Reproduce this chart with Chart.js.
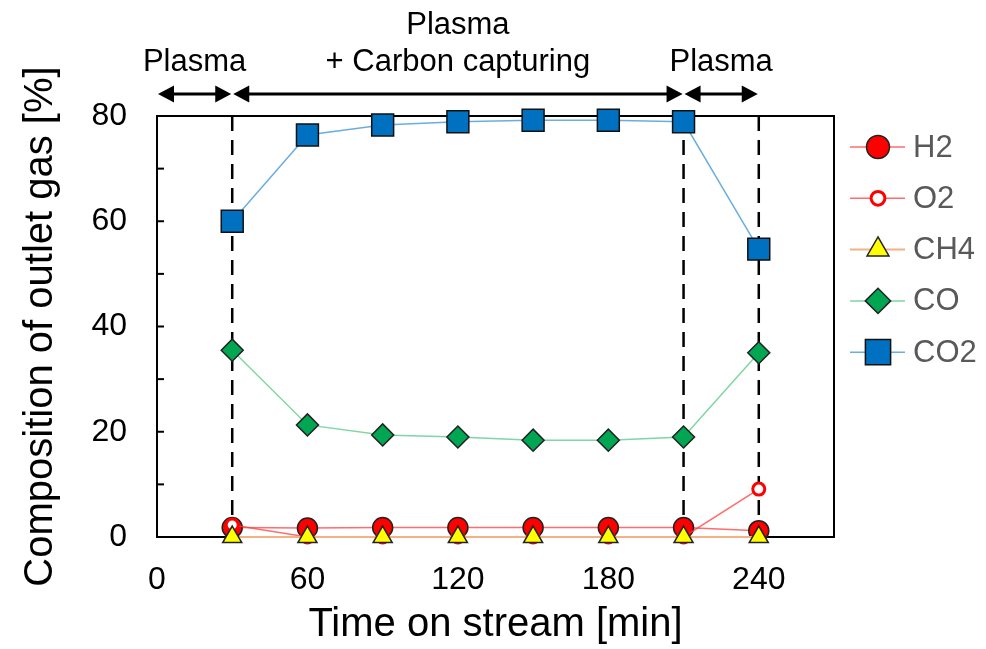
<!DOCTYPE html>
<html>
<head>
<meta charset="utf-8">
<script src="https://cdn.jsdelivr.net/npm/chart.js@4.4.1/dist/chart.umd.min.js"></script>
<style>
html, body { margin:0; padding:0; background:#fff; }
</style>
</head>
<body>
<canvas id="chart" width="986" height="649"></canvas>
<script>
//data
var times = [30, 60, 90, 120, 150, 180, 210, 240];
var h2  = [1.8, 1.7, 1.8, 1.8, 1.8, 1.8, 1.8, 1.2];
var o2  = [2.3, 0, 0, 0, 0, 0, 0, 9.1];
var ch4 = [0, 0, 0, 0, 0, 0, 0, 0];
var co  = [35.5, 21.3, 19.4, 19.0, 18.4, 18.4, 19.0, 35.0];
var co2 = [60.0, 76.4, 78.3, 78.9, 79.2, 79.2, 78.9, 54.7];
var xTicks = [0, 60, 120, 180, 240];

//phases shown above the plot
var phaseStart = [0, 30, 210];
var phaseEnd = [30, 210, 240];
var phaseLabels = [["Plasma"], ["Plasma", "+ Carbon capturing"], ["Plasma"]];
var phaseLines = [30, 210, 240];

var FONT = "'Liberation Sans', Arial, sans-serif";

function pts(ys){
    var out = [];
    for(var i = 0; i < times.length; i++){
        out.push({x: times[i], y: ys[i]});
    }
    return out;
}

var datasets = [
    {label: "H2", data: pts(h2), borderColor: "rgba(255,60,60,0.75)", borderWidth: 1.5,
     pointStyle: "circle", pointRadius: 10, pointBackgroundColor: "#ff0000",
     pointBorderColor: "#222", pointBorderWidth: 1.5, order: 5},
    {label: "O2", data: pts(o2), borderColor: "rgba(255,60,60,0.75)", borderWidth: 1.5,
     pointStyle: "circle", pointRadius: 6, pointBackgroundColor: "#ffffff",
     pointBorderColor: "#ff0000", pointBorderWidth: 3, order: 4},
    {label: "CH4", data: pts(ch4), borderColor: "#f4b183", borderWidth: 2,
     pointStyle: "triangle", pointRadius: 11, pointBackgroundColor: "#ffff00",
     pointBorderColor: "#222", pointBorderWidth: 1.5, order: 3},
    {label: "CO", data: pts(co), borderColor: "#7fd6a6", borderWidth: 1.5,
     pointStyle: "rectRot", pointRadius: 11, pointBackgroundColor: "#00a651",
     pointBorderColor: "#222", pointBorderWidth: 1.5, order: 2},
    {label: "CO2", data: pts(co2), borderColor: "#6aaee0", borderWidth: 1.5,
     pointStyle: "rect", pointRadius: 15.5, pointBackgroundColor: "#0070c0",
     pointBorderColor: "#111", pointBorderWidth: 1.5, order: 1}
];
datasets.forEach(function(d){ d.clip = false; d.tension = 0; d.fill = false; });

function drawMarker(ctx, ds, x, y, scale){
    var r = ds.pointRadius * scale;
    ctx.save();
    ctx.fillStyle = ds.pointBackgroundColor;
    ctx.strokeStyle = ds.pointBorderColor;
    ctx.lineWidth = ds.pointBorderWidth;
    ctx.beginPath();
    if(ds.pointStyle == "circle"){
        ctx.arc(x, y, r, 0, Math.PI * 2);
    } else if(ds.pointStyle == "triangle"){
        ctx.moveTo(x, y - r);
        ctx.lineTo(x + r * Math.sin(Math.PI * 2 / 3), y + r / 2);
        ctx.lineTo(x - r * Math.sin(Math.PI * 2 / 3), y + r / 2);
        ctx.closePath();
    } else if(ds.pointStyle == "rectRot"){
        ctx.moveTo(x - r, y); ctx.lineTo(x, y - r); ctx.lineTo(x + r, y); ctx.lineTo(x, y + r);
        ctx.closePath();
    } else {
        var s = r * Math.SQRT1_2;
        ctx.rect(x - s, y - s, 2 * s, 2 * s);
    }
    ctx.fill();
    ctx.stroke();
    ctx.restore();
}

function drawArrow(ctx, x1, x2, y){
    var head = 16, half = 8.5;
    ctx.beginPath();
    ctx.moveTo(x1 + head - 2, y);
    ctx.lineTo(x2 - head + 2, y);
    ctx.stroke();
    ctx.beginPath();
    ctx.moveTo(x1, y); ctx.lineTo(x1 + head, y - half); ctx.lineTo(x1 + head, y + half); ctx.closePath();
    ctx.fill();
    ctx.beginPath();
    ctx.moveTo(x2, y); ctx.lineTo(x2 - head, y - half); ctx.lineTo(x2 - head, y + half); ctx.closePath();
    ctx.fill();
}

var overlayPlugin = {
    id: "overlay",
    beforeDatasetsDraw: function(chart){
        var ctx = chart.ctx, a = chart.chartArea;
        var xs = chart.scales.x, ys = chart.scales.y;
        ctx.save();
        //dashed phase boundaries
        ctx.strokeStyle = "#000";
        ctx.lineWidth = 2.5;
        ctx.setLineDash([15, 9]);
        phaseLines.forEach(function(t){
            var px = xs.getPixelForValue(t);
            ctx.beginPath();
            ctx.moveTo(px, a.top);
            ctx.lineTo(px, a.bottom);
            ctx.stroke();
        });
        ctx.setLineDash([]);
        //frame
        ctx.lineWidth = 2;
        ctx.strokeRect(a.left, a.top, a.right - a.left, a.bottom - a.top);
        //inward ticks on y
        for(var v = 0; v <= 80; v += 10){
            var py = ys.getPixelForValue(v);
            ctx.beginPath();
            ctx.moveTo(a.left, py);
            ctx.lineTo(a.left + 7, py);
            ctx.stroke();
        }
        ctx.restore();
    },
    afterDraw: function(chart){
        var ctx = chart.ctx, xs = chart.scales.x;
        ctx.save();
        //phase arrows and text
        ctx.strokeStyle = "#000";
        ctx.fillStyle = "#000";
        ctx.lineWidth = 3;
        ctx.font = "31px " + FONT;
        ctx.textAlign = "center";
        ctx.textBaseline = "middle";
        for(var i = 0; i < phaseStart.length; i++){
            var x1 = xs.getPixelForValue(phaseStart[i]) + 1;
            var x2 = xs.getPixelForValue(phaseEnd[i]) - 1;
            drawArrow(ctx, x1, x2, 94);
            var lines = phaseLabels[i];
            var cx = (x1 + x2) / 2;
            for(var j = 0; j < lines.length; j++){
                ctx.fillText(lines[j], cx, 62 - (lines.length - 1 - j) * 37);
            }
        }
        //legend
        ctx.font = "31px " + FONT;
        ctx.textAlign = "left";
        for(var k = 0; k < datasets.length; k++){
            var ds = datasets[k];
            var y = 147 + k * 51.3;
            ctx.strokeStyle = ds.borderColor;
            ctx.lineWidth = ds.borderWidth;
            ctx.beginPath();
            ctx.moveTo(850, y);
            ctx.lineTo(905, y);
            ctx.stroke();
            drawMarker(ctx, ds, 878, y, 1.15);
            ctx.fillStyle = "#595959";
            ctx.fillText(ds.label, 913, y + 1);
        }
        ctx.restore();
    }
};

var currentChart = new Chart(document.getElementById("chart"), {
    type: "line",
    data: {datasets: datasets},
    options: {
        responsive: false,
        animation: false,
        devicePixelRatio: 1,
        layout: {padding: {top: 116, right: 152, left: 0, bottom: 0}},
        plugins: {legend: {display: false}, tooltip: {enabled: false}},
        scales: {
            x: {
                type: "linear", min: 0, max: 270,
                grid: {display: false, drawTicks: false},
                border: {display: false},
                afterFit: function(scale){ scale.height = 112; },
                afterBuildTicks: function(scale){
                    scale.ticks = xTicks.map(function(v){ return {value: v}; });
                },
                ticks: {font: {family: FONT, size: 32}, color: "#000", padding: 24, maxRotation: 0},
                title: {display: true, text: "Time on stream [min]", color: "#000",
                        font: {family: FONT, size: 40, lineHeight: 1.2}, padding: {top: 0, bottom: 0}}
            },
            y: {
                min: 0, max: 80,
                grid: {display: false, drawTicks: false},
                border: {display: false},
                afterFit: function(scale){ scale.width = 157; },
                ticks: {stepSize: 20, font: {family: FONT, size: 32}, color: "#000", padding: 30},
                title: {display: true, text: "Composition of outlet gas [%]", color: "#000",
                        font: {family: FONT, size: 40, lineHeight: 1.2}, padding: {top: 17, bottom: 0}}
            }
        }
    },
    plugins: [overlayPlugin]
});
</script>
</body>
</html>
